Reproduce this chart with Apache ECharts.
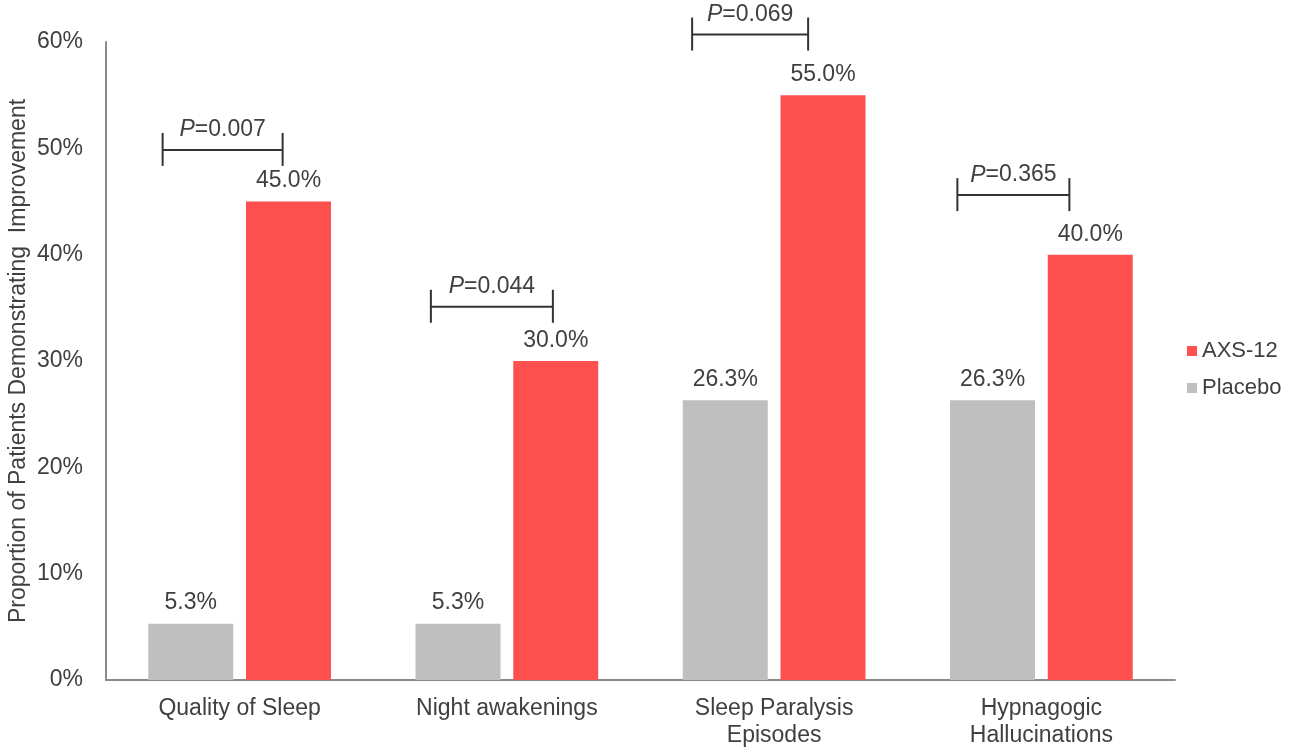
<!DOCTYPE html>
<html>
<head>
<meta charset="utf-8">
<script src="https://cdn.jsdelivr.net/npm/echarts@6/dist/echarts.min.js"></script>
<style>
html,body{margin:0;padding:0;background:#fff;}
#chart{width:1299px;height:751px;}
</style>
</head>
<body>
<div id="chart"></div>
<script>
// ---- data ----
const categories = ['Quality of Sleep', 'Night awakenings', 'Sleep Paralysis\nEpisodes', 'Hypnagogic\nHallucinations'];
const placeboValues = [5.3, 5.3, 26.3, 26.3];
const axs12Values = [45.0, 30.0, 55.0, 40.0];
const pValues = ['0.007', '0.044', '0.069', '0.365'];
const bracketLevels = [49.85, 35.1, 60.7, 45.6];
const yTicks = [0, 10, 20, 30, 40, 50, 60];

// ---- layout for brackets (pixel offsets from category centre) ----
const bracketOffsets = [[-77, 43], [-76, 46], [-82, 34], [-84, 28]];

const FONT = "'Liberation Sans', Arial, sans-serif";
const TXT = '#404040';
const FS = 23;

const chart = echarts.init(document.getElementById('chart'));
const option = {
  animation: false,
  backgroundColor: '#ffffff',
  textStyle: { fontFamily: FONT },
  grid: { left: 106, right: 124, top: 42, bottom: 71, containLabel: false, outerBoundsMode: 'none' },
  legend: {
    data: ['AXS-12', 'Placebo'],
    orient: 'vertical',
    left: 1187,
    top: 340,
    padding: 0,
    itemWidth: 10,
    itemHeight: 10,
    itemGap: 15,
    icon: 'rect',
    textStyle: { fontSize: 22, color: TXT, fontFamily: FONT }
  },
  xAxis: {
    type: 'category',
    data: categories,
    axisLine: { lineStyle: { color: '#8a8a8a', width: 2 } },
    axisTick: { show: false },
    axisLabel: { fontSize: FS, color: TXT, margin: 15, lineHeight: 27, fontFamily: FONT, interval: 0 }
  },
  yAxis: {
    type: 'value',
    min: yTicks[0],
    max: yTicks[yTicks.length - 1],
    interval: 10,
    name: 'Proportion of Patients Demonstrating  Improvement',
    nameLocation: 'middle',
    nameGap: 76,
    nameMoveOverlap: false,
    nameTextStyle: { fontSize: 23, color: TXT, fontFamily: FONT },
    axisLine: { show: true, lineStyle: { color: '#8a8a8a', width: 2 } },
    axisTick: { show: false },
    splitLine: { show: false },
    axisLabel: { fontSize: FS, color: TXT, margin: 23, fontFamily: FONT, formatter: v => v + '%' }
  },
  series: [
    {
      name: 'Placebo',
      type: 'bar',
      data: placeboValues,
      barWidth: 85,
      barGap: '15%',
      itemStyle: { color: '#bfbfbf' },
      label: { show: true, position: 'top', distance: 9, fontSize: FS, color: TXT, fontFamily: FONT, formatter: p => p.value.toFixed(1) + '%' }
    },
    {
      name: 'AXS-12',
      type: 'bar',
      data: axs12Values,
      barWidth: 85,
      barGap: '15%',
      itemStyle: { color: '#ff5050' },
      label: { show: true, position: 'top', distance: 9, fontSize: FS, color: TXT, fontFamily: FONT, formatter: p => p.value.toFixed(1) + '%' }
    }
  ]
};
chart.setOption(option);

function drawBrackets() {
  const els = [];
  categories.forEach((c, i) => {
    const cx = chart.convertToPixel({ xAxisIndex: 0 }, i);
    const y = chart.convertToPixel({ yAxisIndex: 0 }, bracketLevels[i]);
    const x1 = cx + bracketOffsets[i][0];
    const x2 = cx + bracketOffsets[i][1];
    const st = { stroke: '#333333', lineWidth: 2 };
    els.push({ type: 'line', shape: { x1: x1, y1: y, x2: x2, y2: y }, style: st, silent: true });
    els.push({ type: 'line', shape: { x1: x1, y1: y - 17, x2: x1, y2: y + 16 }, style: st, silent: true });
    els.push({ type: 'line', shape: { x1: x2, y1: y - 17, x2: x2, y2: y + 16 }, style: st, silent: true });
    els.push({
      type: 'text',
      x: (x1 + x2) / 2,
      y: y - 20,
      silent: true,
      style: {
        text: '{i|P}=' + pValues[i],
        align: 'center',
        verticalAlign: 'middle',
        fill: TXT,
        font: FS + 'px ' + FONT,
        rich: { i: { fontStyle: 'italic', fontSize: FS, fill: TXT, fontFamily: FONT } }
      }
    });
  });
  chart.setOption({ graphic: { elements: els } });
}
drawBrackets();
</script>
</body>
</html>
